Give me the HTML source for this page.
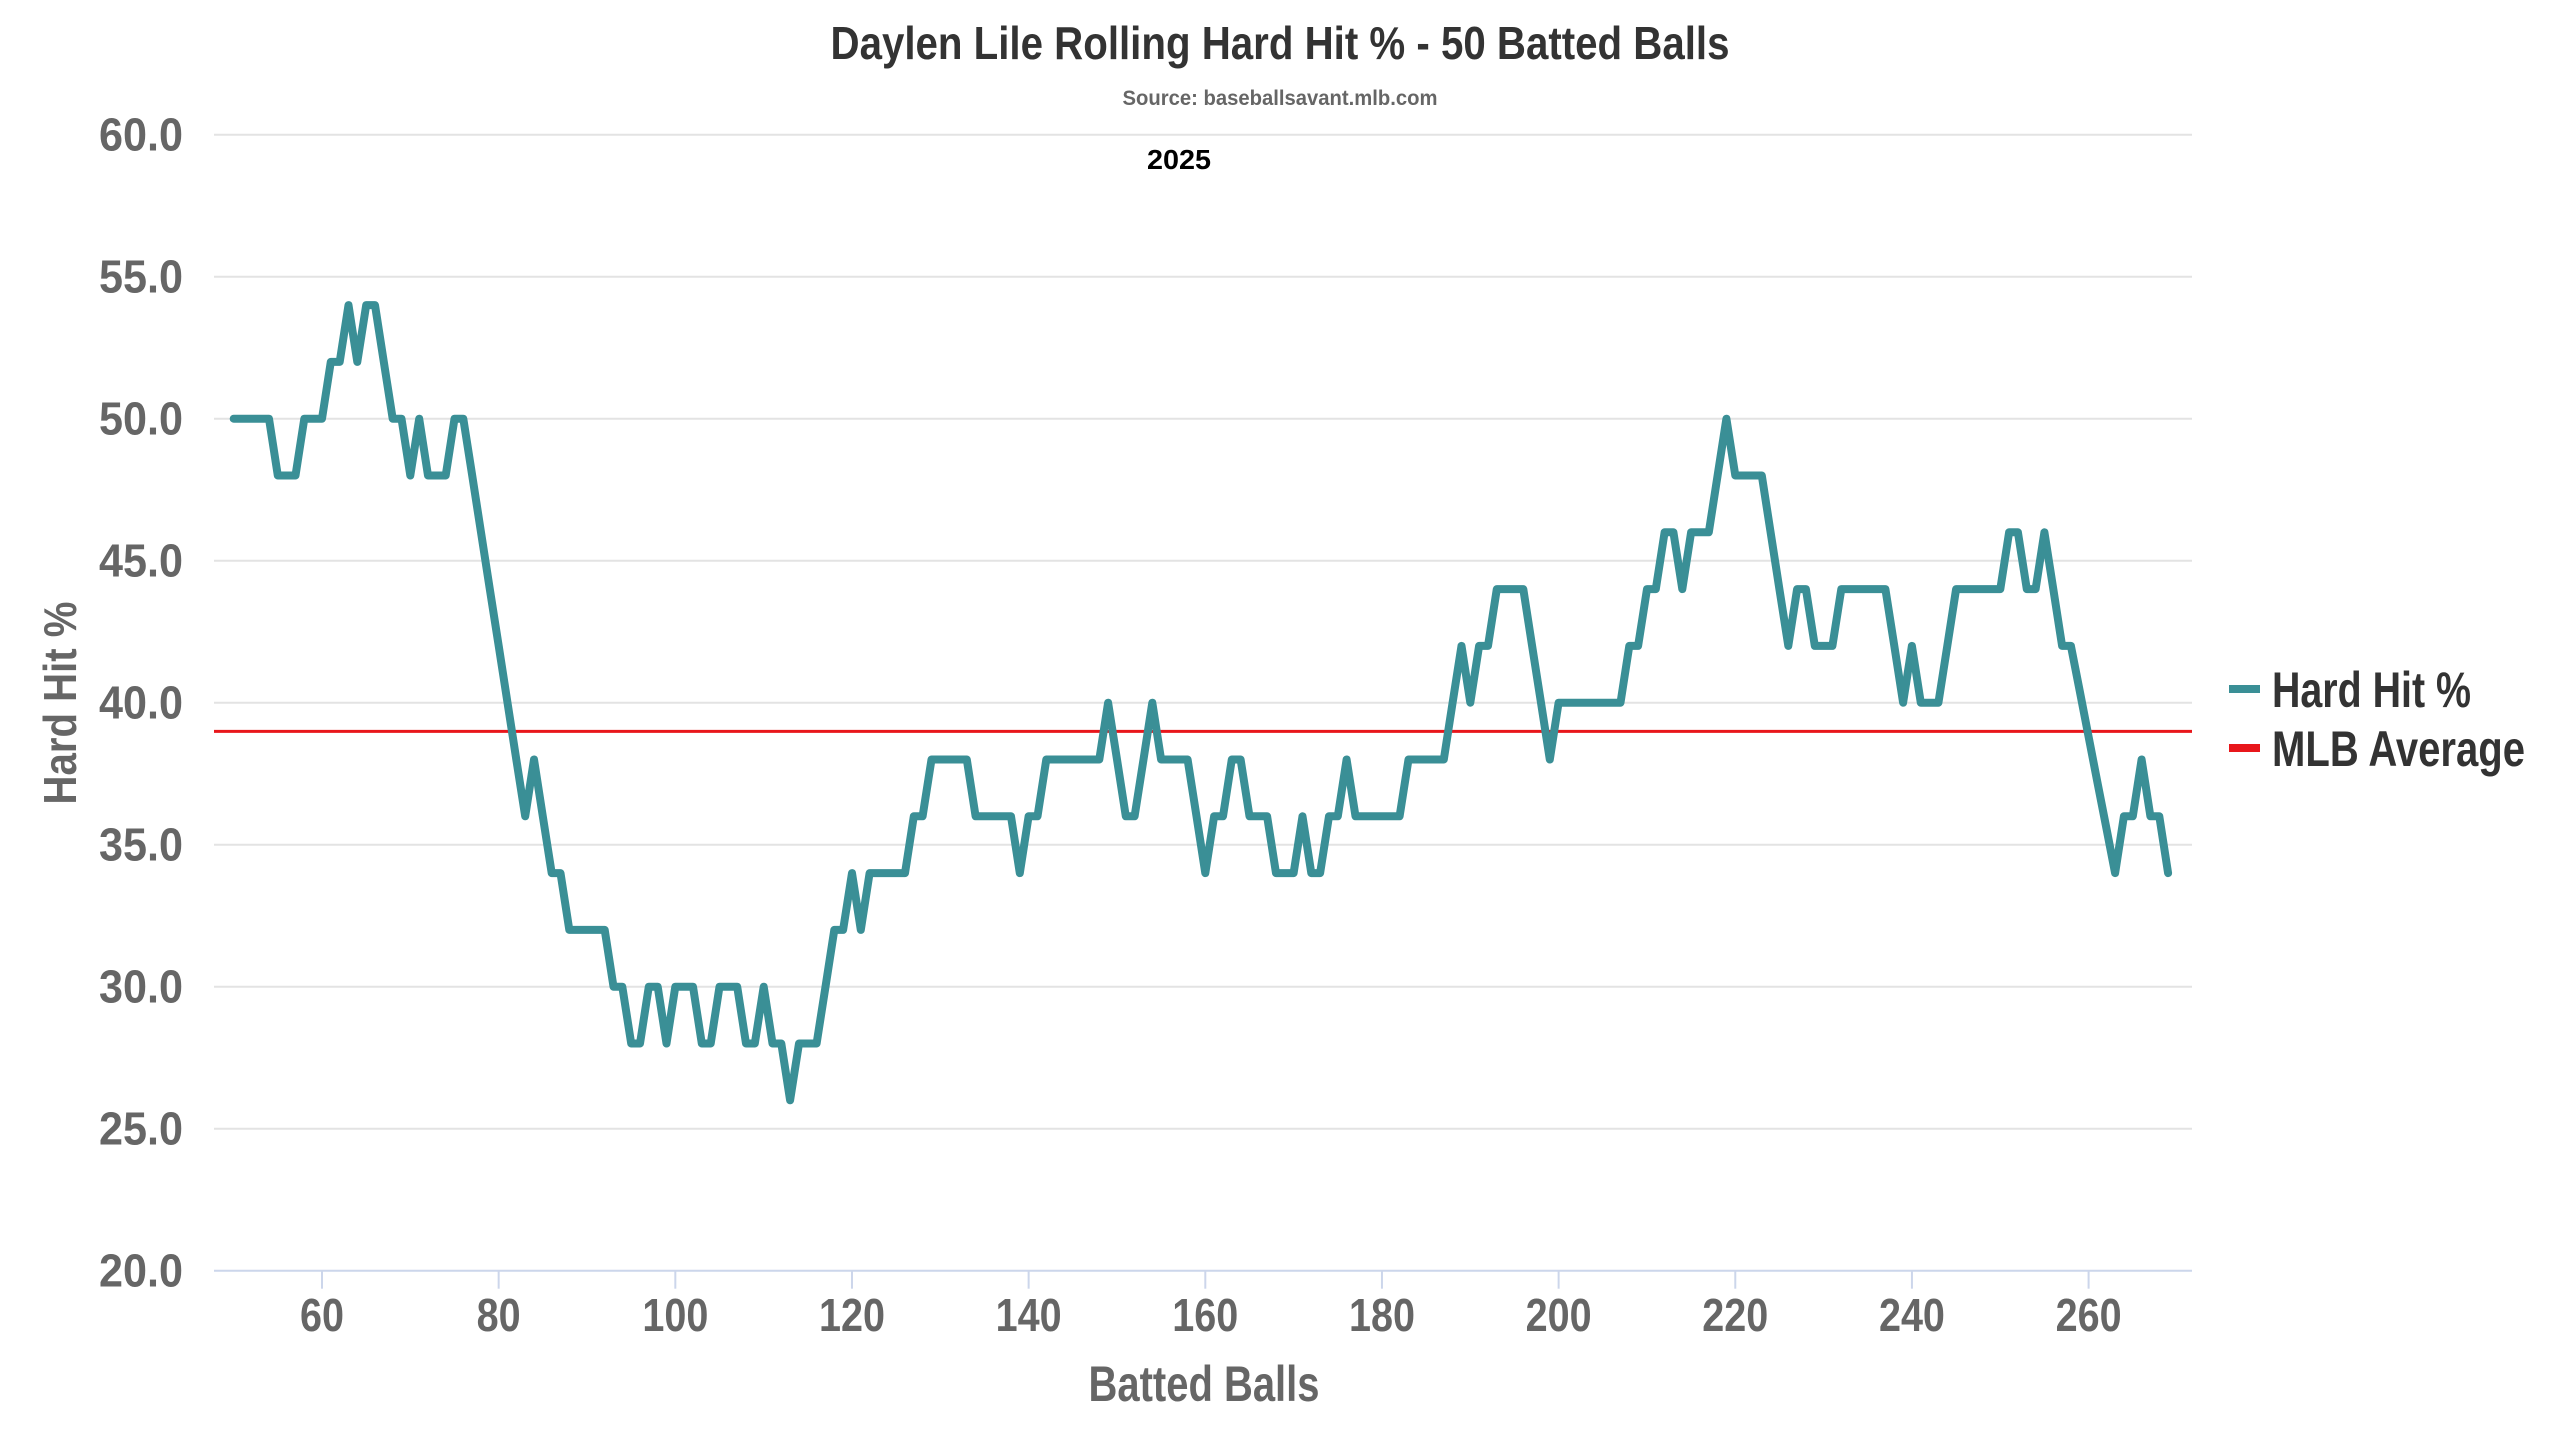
<!DOCTYPE html>
<html><head><meta charset="utf-8"><style>
html,body{margin:0;padding:0;background:#fff;width:2560px;height:1440px;overflow:hidden}
svg text{font-family:"Liberation Sans Narrow","Liberation Sans",sans-serif;font-weight:bold}
</style></head><body>
<svg id="c" width="2560" height="1440" viewBox="0 0 2560 1440" xmlns="http://www.w3.org/2000/svg">
<text x="1280" y="59" text-anchor="middle" font-size="46" fill="#333" textLength="899" lengthAdjust="spacingAndGlyphs">Daylen Lile Rolling Hard Hit % - 50 Batted Balls</text>
<text x="1280" y="105" text-anchor="middle" font-size="21" fill="#666" textLength="315" lengthAdjust="spacingAndGlyphs">Source: baseballsavant.mlb.com</text>
<text x="1179" y="169" text-anchor="middle" font-size="28" fill="#000" textLength="64" lengthAdjust="spacingAndGlyphs">2025</text>
<g id="grid"></g>
<line x1="214" y1="731.4" x2="2192" y2="731.4" stroke="#e8161b" stroke-width="3"/>
<polyline id="ln" fill="none" stroke="#3a8f96" stroke-width="8" stroke-linejoin="round" stroke-linecap="round"/>
<text x="1204" y="1401" text-anchor="middle" font-size="50" fill="#666" textLength="231" lengthAdjust="spacingAndGlyphs">Batted Balls</text>
<text transform="translate(76,703) rotate(-90)" text-anchor="middle" font-size="46" fill="#666" textLength="203" lengthAdjust="spacingAndGlyphs">Hard Hit %</text>
<line x1="2229" y1="689" x2="2260" y2="689" stroke="#3a8f96" stroke-width="8"/>
<text x="2272" y="707" font-size="50" fill="#333" textLength="199" lengthAdjust="spacingAndGlyphs">Hard Hit %</text>
<line x1="2229" y1="748" x2="2260" y2="748" stroke="#e8161b" stroke-width="8"/>
<text x="2272" y="766" font-size="50" fill="#333" textLength="253" lengthAdjust="spacingAndGlyphs">MLB Average</text>
</svg>
<script>
var NS="http://www.w3.org/2000/svg";
function Y(v){return 134.7+(60-v)*28.4;}
function X(b){return 322+(b-60)*8.833;}
var g=document.getElementById('grid');
function el(t,a,txt){var e=document.createElementNS(NS,t);for(var k in a)e.setAttribute(k,a[k]);if(txt!==undefined)e.textContent=txt;g.appendChild(e);return e;}
for(var v=20;v<=60;v+=5){
 var y=Y(v);
 if(v>20)el('line',{x1:214,y1:y,x2:2192,y2:y,stroke:'#e3e3e3','stroke-width':2});
 el('text',{x:183,y:y+16,'text-anchor':'end','font-size':46,fill:'#666',textLength:84,lengthAdjust:'spacingAndGlyphs'},v.toFixed(1));
}
el('line',{x1:214,y1:Y(20),x2:2192,y2:Y(20),stroke:'#ccd6eb','stroke-width':2});
for(var b=60;b<=260;b+=20){
 var x=X(b);
 el('line',{x1:x,y1:Y(20),x2:x,y2:Y(20)+18,stroke:'#ccd6eb','stroke-width':2});
 el('text',{x:x,y:1331,'text-anchor':'middle','font-size':46,fill:'#666',textLength:(b<100?44:66),lengthAdjust:'spacingAndGlyphs'},String(b));
}
var d={50:50,51:50,52:50,53:50,54:50,55:48,56:48,57:48,58:50,59:50,60:50,61:52,62:52,63:54,64:52,65:54,66:54,67:52,68:50,69:50,70:48,71:50,72:48,73:48,74:48,75:50,76:50,77:48,78:46,79:44,80:42,81:40,82:38,83:36,84:38,85:36,86:34,87:34,88:32,89:32,90:32,91:32,92:32,93:30,94:30,95:28,96:28,97:30,98:30,99:28,100:30,101:30,102:30,103:28,104:28,105:30,106:30,107:30,108:28,109:28,110:30,111:28,112:28,113:26,114:28,115:28,116:28,117:30,118:32,119:32,120:34,121:32,122:34,123:34,124:34,125:34,126:34,127:36,128:36,129:38,130:38,131:38,132:38,133:38,134:36,135:36,136:36,137:36,138:36,139:34,140:36,141:36,142:38,143:38,144:38,145:38,146:38,147:38,148:38,149:40,150:38,151:36,152:36,153:38,154:40,155:38,156:38,157:38,158:38,159:36,160:34,161:36,162:36,163:38,164:38,165:36,166:36,167:36,168:34,169:34,170:34,171:36,172:34,173:34,174:36,175:36,176:38,177:36,178:36,179:36,180:36,181:36,182:36,183:38,184:38,185:38,186:38,187:38,188:40,189:42,190:40,191:42,192:42,193:44,194:44,195:44,196:44,197:42,198:40,199:38,200:40,201:40,202:40,203:40,204:40,205:40,206:40,207:40,208:42,209:42,210:44,211:44,212:46,213:46,214:44,215:46,216:46,217:46,218:48,219:50,220:48,221:48,222:48,223:48,224:46,225:44,226:42,227:44,228:44,229:42,230:42,231:42,232:44,233:44,234:44,235:44,236:44,237:44,238:42,239:40,240:42,241:40,242:40,243:40,244:42,245:44,246:44,247:44,248:44,249:44,250:44,251:46,252:46,253:44,254:44,255:46,256:44,257:42,258:42,259:40.4,260:38.8,261:37.2,262:35.6,263:34,264:36,265:36,266:38,267:36,268:36,269:34};
var pts=[];for(var i=50;i<=269;i++)pts.push(X(i).toFixed(1)+','+Y(d[i]).toFixed(1));
document.getElementById('ln').setAttribute('points',pts.join(' '));
</script>
</body></html>
